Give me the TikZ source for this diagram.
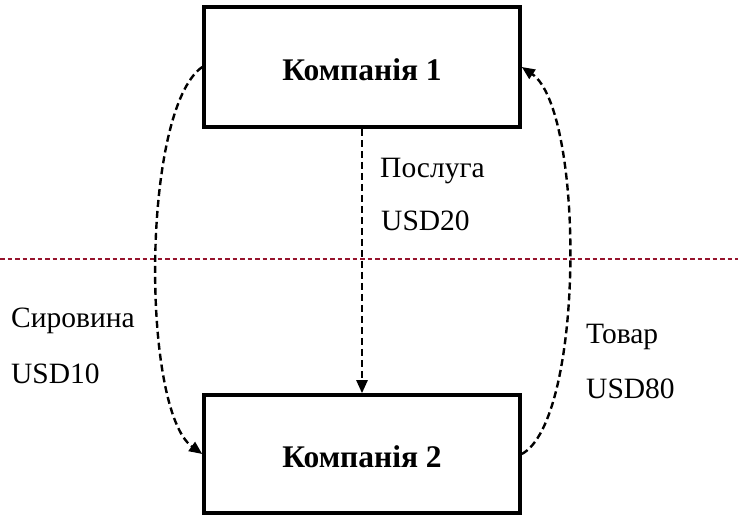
\documentclass[tikz,border=0pt]{standalone}
\usepackage{fontspec}
\setmainfont{Liberation Serif}
\usetikzlibrary{arrows.meta}
\definecolor{sepred}{RGB}{150,20,45}
\tikzset{
  company/.style={draw=black, line width=3.6pt, minimum width=316pt, minimum height=120pt,
    inner sep=0pt, font=\fontsize{31.5}{33}\selectfont\bfseries, text height=27pt, text depth=0pt},
  flow/.style={line width=2.4pt, dash pattern=on 7pt off 4pt,
    -{Triangle[length=13pt,width=11pt]}},
  sep/.style={draw=sepred, line width=1.2pt, dash pattern=on 4.5pt off 3pt},
  lbl/.style={anchor=base west, inner sep=0pt, font=\fontsize{29.5}{31}\selectfont}
}
\begin{document}
\begin{tikzpicture}[x=1pt, y={(0pt,-1pt)}]
\useasboundingbox (0,0) rectangle (738,516);
\coordinate (hl) at (0,259);
\coordinate (hr) at (738,259);
\draw[sep] (hl) -- (hr);
\node[company] (top) at (362,67) {Компанія 1};
\node[company, minimum height=118pt] (bot) at (362,454) {Компанія 2};
\draw[flow] (top.south) -- (bot.north);
\draw[flow] (top.west) .. controls +(-61,43) and +(-61,-44) .. (bot.west);
\draw[flow] (bot.east) .. controls +(63,-34) and +(63,43) .. (top.east);
\node[lbl] (l1) at (380,177) {Послуга};
\node[lbl] (l2) at (381,230) {USD20};
\node[lbl] (l3) at (11,327) {Сировина};
\node[lbl] (l4) at (11,383) {USD10};
\node[lbl] (l5) at (586,343) {Товар};
\node[lbl] (l6) at (586,398) {USD80};
\end{tikzpicture}
\end{document}
